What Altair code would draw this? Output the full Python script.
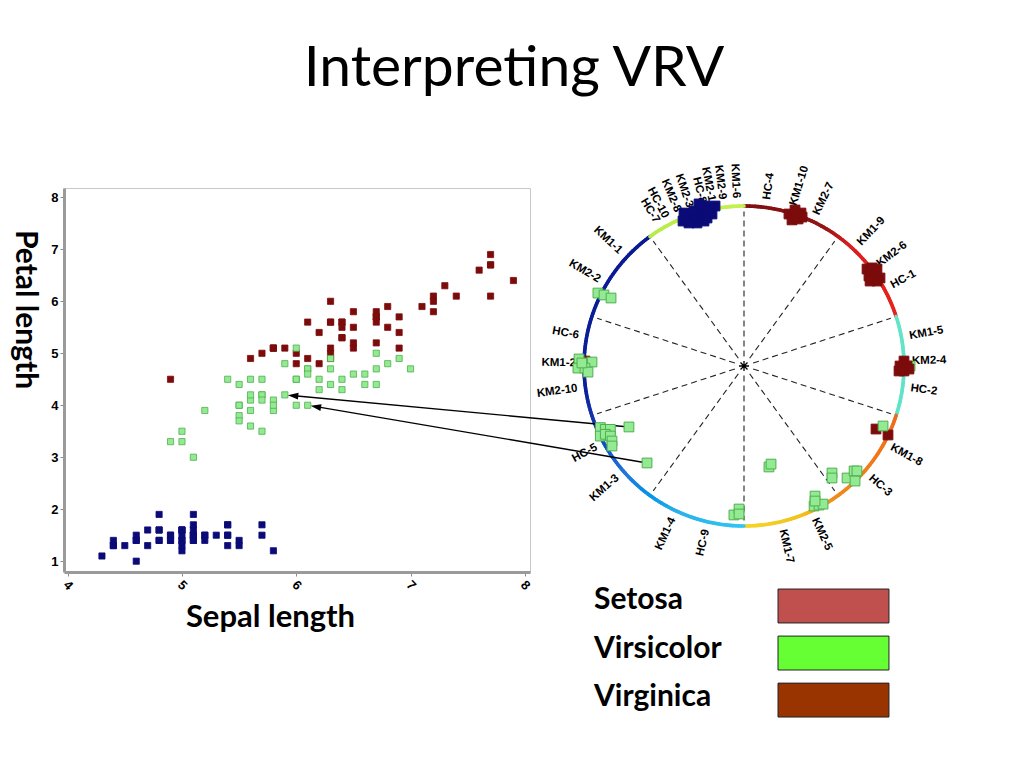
import math
import altair as alt
import pandas as pd
import numpy as np

# ------------------------------------------------------------------
# Scatter: sepal length vs petal length
# ------------------------------------------------------------------
setosa_sepal = [5.1, 4.9, 4.7, 4.6, 5.0, 5.4, 4.6, 5.0, 4.4, 4.9, 5.4, 4.8, 4.8, 4.3, 5.8, 5.7, 5.4, 5.1, 5.7, 5.1,
                5.4, 5.1, 4.6, 5.1, 4.8, 5.0, 5.0, 5.2, 5.2, 4.7, 4.8, 5.4, 5.2, 5.5, 4.9, 5.0, 5.5, 4.9, 4.4, 5.1,
                5.0, 4.5, 4.4, 5.0, 5.1, 4.8, 5.1, 4.6, 5.3, 5.0]
setosa_petal = [1.4, 1.4, 1.3, 1.5, 1.4, 1.7, 1.4, 1.5, 1.4, 1.5, 1.5, 1.6, 1.4, 1.1, 1.2, 1.5, 1.3, 1.4, 1.7, 1.5,
                1.7, 1.5, 1.0, 1.7, 1.9, 1.6, 1.6, 1.5, 1.4, 1.6, 1.6, 1.5, 1.5, 1.4, 1.5, 1.2, 1.3, 1.4, 1.3, 1.5,
                1.3, 1.3, 1.3, 1.6, 1.9, 1.4, 1.6, 1.4, 1.5, 1.4]
versicolor_sepal = [7.0, 6.4, 6.9, 5.5, 6.5, 5.7, 6.3, 4.9, 6.6, 5.2, 5.0, 5.9, 6.0, 6.1, 5.6, 6.7, 5.6, 5.8, 6.2, 5.6,
                    5.9, 6.1, 6.3, 6.1, 6.4, 6.6, 6.8, 6.7, 6.0, 5.7, 5.5, 5.5, 5.8, 6.0, 5.4, 6.0, 6.7, 6.3, 5.6, 5.5,
                    5.5, 6.1, 5.8, 5.0, 5.6, 5.7, 5.7, 6.2, 5.1, 5.7]
versicolor_petal = [4.7, 4.5, 4.9, 4.0, 4.6, 4.5, 4.7, 3.3, 4.6, 3.9, 3.5, 4.2, 4.0, 4.7, 3.6, 4.4, 4.5, 4.1, 4.5, 3.9,
                    4.8, 4.0, 4.9, 4.7, 4.3, 4.4, 4.8, 5.0, 4.5, 3.5, 3.8, 3.7, 3.9, 5.1, 4.5, 4.5, 4.7, 4.4, 4.1, 4.0,
                    4.4, 4.6, 4.0, 3.3, 4.2, 4.2, 4.2, 4.3, 3.0, 4.1]
virginica_sepal = [6.3, 5.8, 7.1, 6.3, 6.5, 7.6, 4.9, 7.3, 6.7, 7.2, 6.5, 6.4, 6.8, 5.7, 5.8, 6.4, 6.5, 7.7, 7.7, 6.0,
                   6.9, 5.6, 7.7, 6.3, 6.7, 7.2, 6.2, 6.1, 6.4, 7.2, 7.4, 7.9, 6.4, 6.3, 6.1, 7.7, 6.3, 6.4, 6.0, 6.9,
                   6.7, 6.9, 5.8, 6.8, 6.7, 6.7, 6.3, 6.5, 6.2, 5.9]
virginica_petal = [6.0, 5.1, 5.9, 5.6, 5.8, 6.6, 4.5, 6.3, 5.8, 6.1, 5.1, 5.3, 5.5, 5.0, 5.1, 5.3, 5.5, 6.7, 6.9, 5.0,
                   5.7, 4.9, 6.7, 4.9, 5.7, 6.0, 4.8, 4.9, 5.6, 5.8, 6.1, 6.4, 5.6, 5.1, 5.6, 6.1, 5.6, 5.5, 4.8, 5.4,
                   5.6, 5.1, 5.1, 5.9, 5.7, 5.2, 5.0, 5.2, 5.4, 5.1]

x_ticks = [4, 5, 6, 7, 8]
y_ticks = [1, 2, 3, 4, 5, 6, 7, 8]

# ------------------------------------------------------------------
# VRV circle: point positions (unit-circle coordinates)
# ------------------------------------------------------------------
vrv_setosa_x = [-0.356, -0.325, -0.294, -0.344, -0.306, -0.275, -0.244, -0.213, -0.263, -0.231, -0.200, -0.181,
                -0.281, -0.231, -0.313, -0.250, -0.381, -0.375]
vrv_setosa_y = [0.950, 0.919, 0.894, 0.894, 0.938, 0.981, 1.000, 0.988, 0.950, 0.925, 0.950, 1.000,
                1.013, 0.969, 0.969, 0.906, 0.906, 0.956]
vrv_virginica_x = [0.281, 0.319, 0.356, 0.300, 0.338, 0.363,
                   0.769, 0.800, 0.831, 0.781, 0.819, 0.850, 0.788, 0.831,
                   1.000, 0.975, 1.019, 0.969, 1.000, 1.031,
                   0.825, 0.900, -0.994]
vrv_virginica_y = [0.950, 0.975, 0.956, 0.913, 0.919, 0.931,
                   0.606, 0.613, 0.606, 0.563, 0.563, 0.550, 0.531, 0.531,
                   0.031, 0.000, 0.000, -0.031, -0.031, -0.019,
                   -0.394, -0.431, 0.031]
# first versicolor point lies underneath the virginica squares
vrv_versicolor_x = [1.038, 0.869,
                    0.550, 0.550, 0.644, 0.688, 0.706, 0.694,
                    0.444, 0.438, 0.469, 0.494, 0.444,
                    0.156, 0.169,
                    -0.063, -0.031, -0.031,
                    -0.606, -0.719,
                    -0.898, -0.867, -0.835, -0.898, -0.867, -0.835, -0.825, -0.825,
                    -1.031, -0.950, -1.038, -0.994, -0.975, -1.013,
                    -0.913, -0.875, -0.831]
vrv_versicolor_y = [0.000, -0.375,
                    -0.669, -0.700, -0.700, -0.656, -0.656, -0.719,
                    -0.813, -0.875, -0.869, -0.863, -0.844,
                    -0.631, -0.613,
                    -0.931, -0.894, -0.925,
                    -0.606, -0.381,
                    -0.385, -0.396, -0.396, -0.438, -0.427, -0.438, -0.469, -0.500,
                    0.044, 0.025, -0.013, -0.013, -0.038, 0.019,
                    0.456, 0.444, 0.425]

vrv_labels = ["HC-4", "KM1-10", "KM2-7", "KM1-9", "KM2-6", "HC-1", "KM1-5", "KM2-4", "HC-2", "KM1-8",
              "HC-3", "KM2-5", "KM1-7", "HC-9", "KM1-4", "KM1-3", "HC-5", "KM2-10", "KM1-2", "HC-6",
              "KM2-2", "KM1-1", "HC-7", "HC-10", "KM2-8", "KM2-3", "HC-8", "KM2-1", "KM2-9", "KM1-6"]
vrv_label_angle = [7.9, 17.1, 25.5, 43.4, 53.0, 61.5, 79.8, 88.4, 97.6, 118.8,
                   131.3, 155.2, 166.8, 193.0, 205.0, 228.8, 241.3, 262.3, 270.9, 280.4,
                   300.7, 312.7, 328.8, 332.2, 336.8, 341.1, 345.7, 348.9, 352.6, 357.3]

sector_angles = [0, 36, 72, 108, 144, 180, 216, 252, 288, 324]

arc_stop_angles = [0, 30, 42, 71.9, 72, 107.9, 108, 146, 160, 179.9, 180, 205, 228, 250, 262, 323.9, 324, 360]
arc_stop_colors = ["#7d0f10", "#951313", "#dc1e1e", "#e8221c", "#63e6c6", "#5fe3c8", "#ee6a1c", "#f08a1e",
                   "#f2c21e", "#f4d62a", "#33c6f2", "#2eb0ec", "#2277dc", "#1437b4", "#0c1f9a", "#0a1a92",
                   "#b6ec48", "#c6f050"]

# arrows: VRV point (index into versicolor arrays) -> iris point
arrow_vrv_index = [19, 18]
arrow_iris_sepal = [5.9, 6.1]
arrow_iris_petal = [4.2, 4.0]

legend_names = ["Setosa", "Virsicolor", "Virginica"]
legend_colors = ["#C0504D", "#66FF33", "#993300"]

title_text = "Interpreting VRV"

species = ["Setosa", "Versicolor", "Virginica"]

# ------------------------------------------------------------------
# Layout
# ------------------------------------------------------------------
S_W, S_H = 466, 384
S_XDOM = [3.968, 8.045]
S_YDOM = [0.792, 8.18]
GAP = 36
C_DOM = 1.1125
C_SIZE = 356

# ------------------------------------------------------------------
# Left panel: scatter
# ------------------------------------------------------------------
df_s = pd.concat([
    pd.DataFrame({"sepal": setosa_sepal, "petal": setosa_petal, "species": "Setosa"}),
    pd.DataFrame({"sepal": virginica_sepal, "petal": virginica_petal, "species": "Virginica"}),
    pd.DataFrame({"sepal": versicolor_sepal, "petal": versicolor_petal, "species": "Versicolor"}),
], ignore_index=True)

xs = alt.Scale(domain=S_XDOM, nice=False, zero=False)
ys = alt.Scale(domain=S_YDOM, nice=False, zero=False)

scatter = alt.Chart(df_s).mark_square(size=38, strokeWidth=0.8, opacity=1).encode(
    x=alt.X("sepal:Q", scale=xs, axis=alt.Axis(
        values=x_ticks, format="d", grid=False, domainColor="#9a9a9a", domainWidth=3,
        tickColor="#8a8a8a", tickSize=4, labelFont="Liberation Sans", labelFontWeight="bold",
        labelFontSize=13, labelColor="black", labelAngle=45, labelAlign="center",
        labelBaseline="middle", labelPadding=9, labelFlush=False, labelOverlap=False,
        title="Sepal length", titleFont="Lato", titleFontSize=31, titleFontWeight="bold",
        titleColor="black", titleX=206, titleY=54, titleAlign="center", titleBaseline="alphabetic")),
    y=alt.Y("petal:Q", scale=ys, axis=alt.Axis(
        values=y_ticks, format="d", grid=False, domainColor="#9a9a9a", domainWidth=3,
        tickColor="#8a8a8a", tickSize=4, labelFont="Liberation Sans", labelFontWeight="bold",
        labelFontSize=13, labelColor="black", labelPadding=2, labelFlush=False, labelOverlap=False,
        title="Petal length", titleFont="Lato", titleFontSize=30, titleFontWeight="bold",
        titleColor="black", titleAngle=90, titleX=-49, titleY=121, titleAlign="center",
        titleBaseline="alphabetic")),
    fill=alt.Fill("species:N", scale=alt.Scale(domain=species, range=["#0b0b78", "#93ea93", "#7c0c0c"]), legend=None),
    stroke=alt.Stroke("species:N", scale=alt.Scale(domain=species, range=["#0b0b78", "#4fb04f", "#7c0c0c"]), legend=None),
)

anchor = alt.Chart(pd.DataFrame({"z": [0]})).mark_rect(opacity=0).encode(
    x=alt.value(-54), x2=alt.value(-53), y=alt.value(-179), y2=alt.value(-178))

title = alt.Chart(pd.DataFrame({"t": [title_text]})).mark_text(
    font="Lato", fontSize=57, align="center", baseline="alphabetic", color="black").encode(
    x=alt.value(450), y=alt.value(-102), text="t:N")

p1 = alt.layer(anchor, title, scatter).properties(
    width=S_W, height=S_H, view=alt.ViewBackground(stroke="#c8c8c8", strokeWidth=1))

# ------------------------------------------------------------------
# Right panel: VRV circle
# ------------------------------------------------------------------
cs = alt.Scale(domain=[-C_DOM, C_DOM], nice=False, zero=False)


def X(f):
    return alt.X(f, scale=cs, axis=None)


def Y(f):
    return alt.Y(f, scale=cs, axis=None)


arc = alt.Chart(pd.DataFrame({"a": np.arange(0, 360, 1.0)})).transform_calculate(
    x="sin(datum.a*PI/180)", y="cos(datum.a*PI/180)",
    x2="sin((datum.a+1)*PI/180)", y2="cos((datum.a+1)*PI/180)", mid="datum.a+0.5"
).mark_rule(strokeWidth=3.6, strokeCap="round").encode(
    x=X("x:Q"), y=Y("y:Q"), x2="x2:Q", y2="y2:Q",
    color=alt.Color("mid:Q", scale=alt.Scale(domain=arc_stop_angles, range=arc_stop_colors), legend=None))

dashes = alt.Chart(pd.DataFrame({"a": sector_angles})).transform_calculate(
    x="0.06*sin(datum.a*PI/180)", y="0.06*cos(datum.a*PI/180)",
    x2="0.965*sin(datum.a*PI/180)", y2="0.965*cos(datum.a*PI/180)"
).mark_rule(strokeDash=[6, 4], strokeWidth=1.1, color="#222222").encode(
    x=X("x:Q"), y=Y("y:Q"), x2="x2:Q", y2="y2:Q")

star = alt.Chart(pd.DataFrame({"x": [0.0], "y": [0.0]})).mark_point(
    shape="M-1,0L1,0M0,-1L0,1M-0.7,-0.7L0.7,0.7M-0.7,0.7L0.7,-0.7",
    size=100, filled=False, stroke="black", strokeWidth=1.3, opacity=1).encode(x=X("x:Q"), y=Y("y:Q"))

df_lab = pd.DataFrame({"label": vrv_labels, "theta": vrv_label_angle})
lab_common = dict(font="Liberation Sans", fontWeight="bold", fontSize=11.5, color="black", baseline="middle")
labels_right = alt.Chart(df_lab).transform_filter("datum.theta < 180").transform_calculate(
    lx="1.05*sin(datum.theta*PI/180)", ly="1.05*cos(datum.theta*PI/180)",
    rot="(datum.theta - 90 + 360) % 360"
).mark_text(align="left", **lab_common).encode(
    x=X("lx:Q"), y=Y("ly:Q"), text="label:N", angle=alt.Angle("rot:Q", scale=None))
labels_left = alt.Chart(df_lab).transform_filter("datum.theta >= 180").transform_calculate(
    lx="1.05*sin(datum.theta*PI/180)", ly="1.05*cos(datum.theta*PI/180)",
    rot="(datum.theta - 270 + 360) % 360"
).mark_text(align="right", **lab_common).encode(
    x=X("lx:Q"), y=Y("ly:Q"), text="label:N", angle=alt.Angle("rot:Q", scale=None))

df_v = pd.concat([
    pd.DataFrame({"x": vrv_versicolor_x[:1], "y": vrv_versicolor_y[:1], "species": "Versicolor"}),
    pd.DataFrame({"x": vrv_virginica_x, "y": vrv_virginica_y, "species": "Virginica"}),
    pd.DataFrame({"x": vrv_versicolor_x[1:], "y": vrv_versicolor_y[1:], "species": "Versicolor"}),
    pd.DataFrame({"x": vrv_setosa_x, "y": vrv_setosa_y, "species": "Setosa"}),
], ignore_index=True)

vrv_points = alt.Chart(df_v).mark_square(size=95, strokeWidth=1, opacity=1).encode(
    x=X("x:Q"), y=Y("y:Q"),
    fill=alt.Fill("species:N", scale=alt.Scale(domain=species, range=["#13208c", "#8fea8f", "#8a1414"]), legend=None),
    stroke=alt.Stroke("species:N", scale=alt.Scale(domain=species, range=["#5566c4", "#4caf50", "#b84444"]), legend=None),
)

# arrows (computed in right-panel pixel space, then expressed in its units)
k = C_SIZE / (2 * C_DOM)
kx = S_W / (S_XDOM[1] - S_XDOM[0])
ky = S_H / (S_YDOM[1] - S_YDOM[0])
head_size = 110
head_half = math.sqrt(head_size) / 2
ax, ay, ax2, ay2, hx, hy, hrot = [], [], [], [], [], [], []
for idx, sx, sy in zip(arrow_vrv_index, arrow_iris_sepal, arrow_iris_petal):
    tx, ty = (vrv_versicolor_x[idx] + C_DOM) * k, (C_DOM - vrv_versicolor_y[idx]) * k
    px, py = (sx - S_XDOM[0]) * kx - (S_W + GAP), (S_YDOM[1] - sy) * ky
    dx, dy = tx - px, ty - py
    L = math.hypot(dx, dy)
    dx, dy = dx / L, dy / L
    tipx, tipy = px + 3 * dx, py + 3 * dy
    cx, cy = tipx + head_half * dx, tipy + head_half * dy
    to_u = lambda qx, qy: (qx / k - C_DOM, C_DOM - qy / k)
    u1 = to_u(tx, ty)
    u2 = to_u(tipx + 4 * dx, tipy + 4 * dy)
    uc = to_u(cx, cy)
    ax.append(u1[0]); ay.append(u1[1]); ax2.append(u2[0]); ay2.append(u2[1])
    hx.append(uc[0]); hy.append(uc[1])
    hrot.append((math.degrees(math.atan2(-dy, -dx)) - 180) % 360)

arrow_lines = alt.Chart(pd.DataFrame({"x": ax, "y": ay, "x2": ax2, "y2": ay2})).mark_rule(
    strokeWidth=1.4, color="black").encode(x=X("x:Q"), y=Y("y:Q"), x2="x2:Q", y2="y2:Q")
arrow_heads = alt.Chart(pd.DataFrame({"x": hx, "y": hy, "rot": hrot})).mark_point(
    shape="M-1,0L1,-0.65L1,0.65Z", size=head_size, filled=True, color="black", opacity=1).encode(
    x=X("x:Q"), y=Y("y:Q"), angle=alt.Angle("rot:Q", scale=None))

# legend
df_leg = pd.DataFrame({"name": legend_names, "color": legend_colors, "row": [0, 1, 2]})
leg_boxes = alt.Chart(df_leg).transform_calculate(
    bx="0.2125", bx2="0.906", by="-1.394 - 0.294*datum.row", by2="-1.606 - 0.294*datum.row"
).mark_rect(stroke="#222222", strokeWidth=1).encode(
    x=X("bx:Q"), x2="bx2:Q", y=Y("by:Q"), y2="by2:Q", fill=alt.Fill("color:N", scale=None))
leg_text = alt.Chart(df_leg).transform_calculate(
    tx="-0.9375", ty="-1.52 - 0.302*datum.row"
).mark_text(font="Lato", fontWeight="bold", fontSize=30, align="left", baseline="alphabetic",
            color="black").encode(x=X("tx:Q"), y=Y("ty:Q"), text="name:N")

p2 = alt.layer(arc, dashes, star, labels_right, labels_left, arrow_lines, vrv_points, arrow_heads,
               leg_boxes, leg_text).properties(width=C_SIZE, height=C_SIZE)

chart = alt.hconcat(p1, p2, spacing=GAP, bounds="flush").properties(
    padding=0, background="white"
).configure_view(stroke=None)

chart.save("out.html", embed_options={"renderer": "svg", "actions": False})
